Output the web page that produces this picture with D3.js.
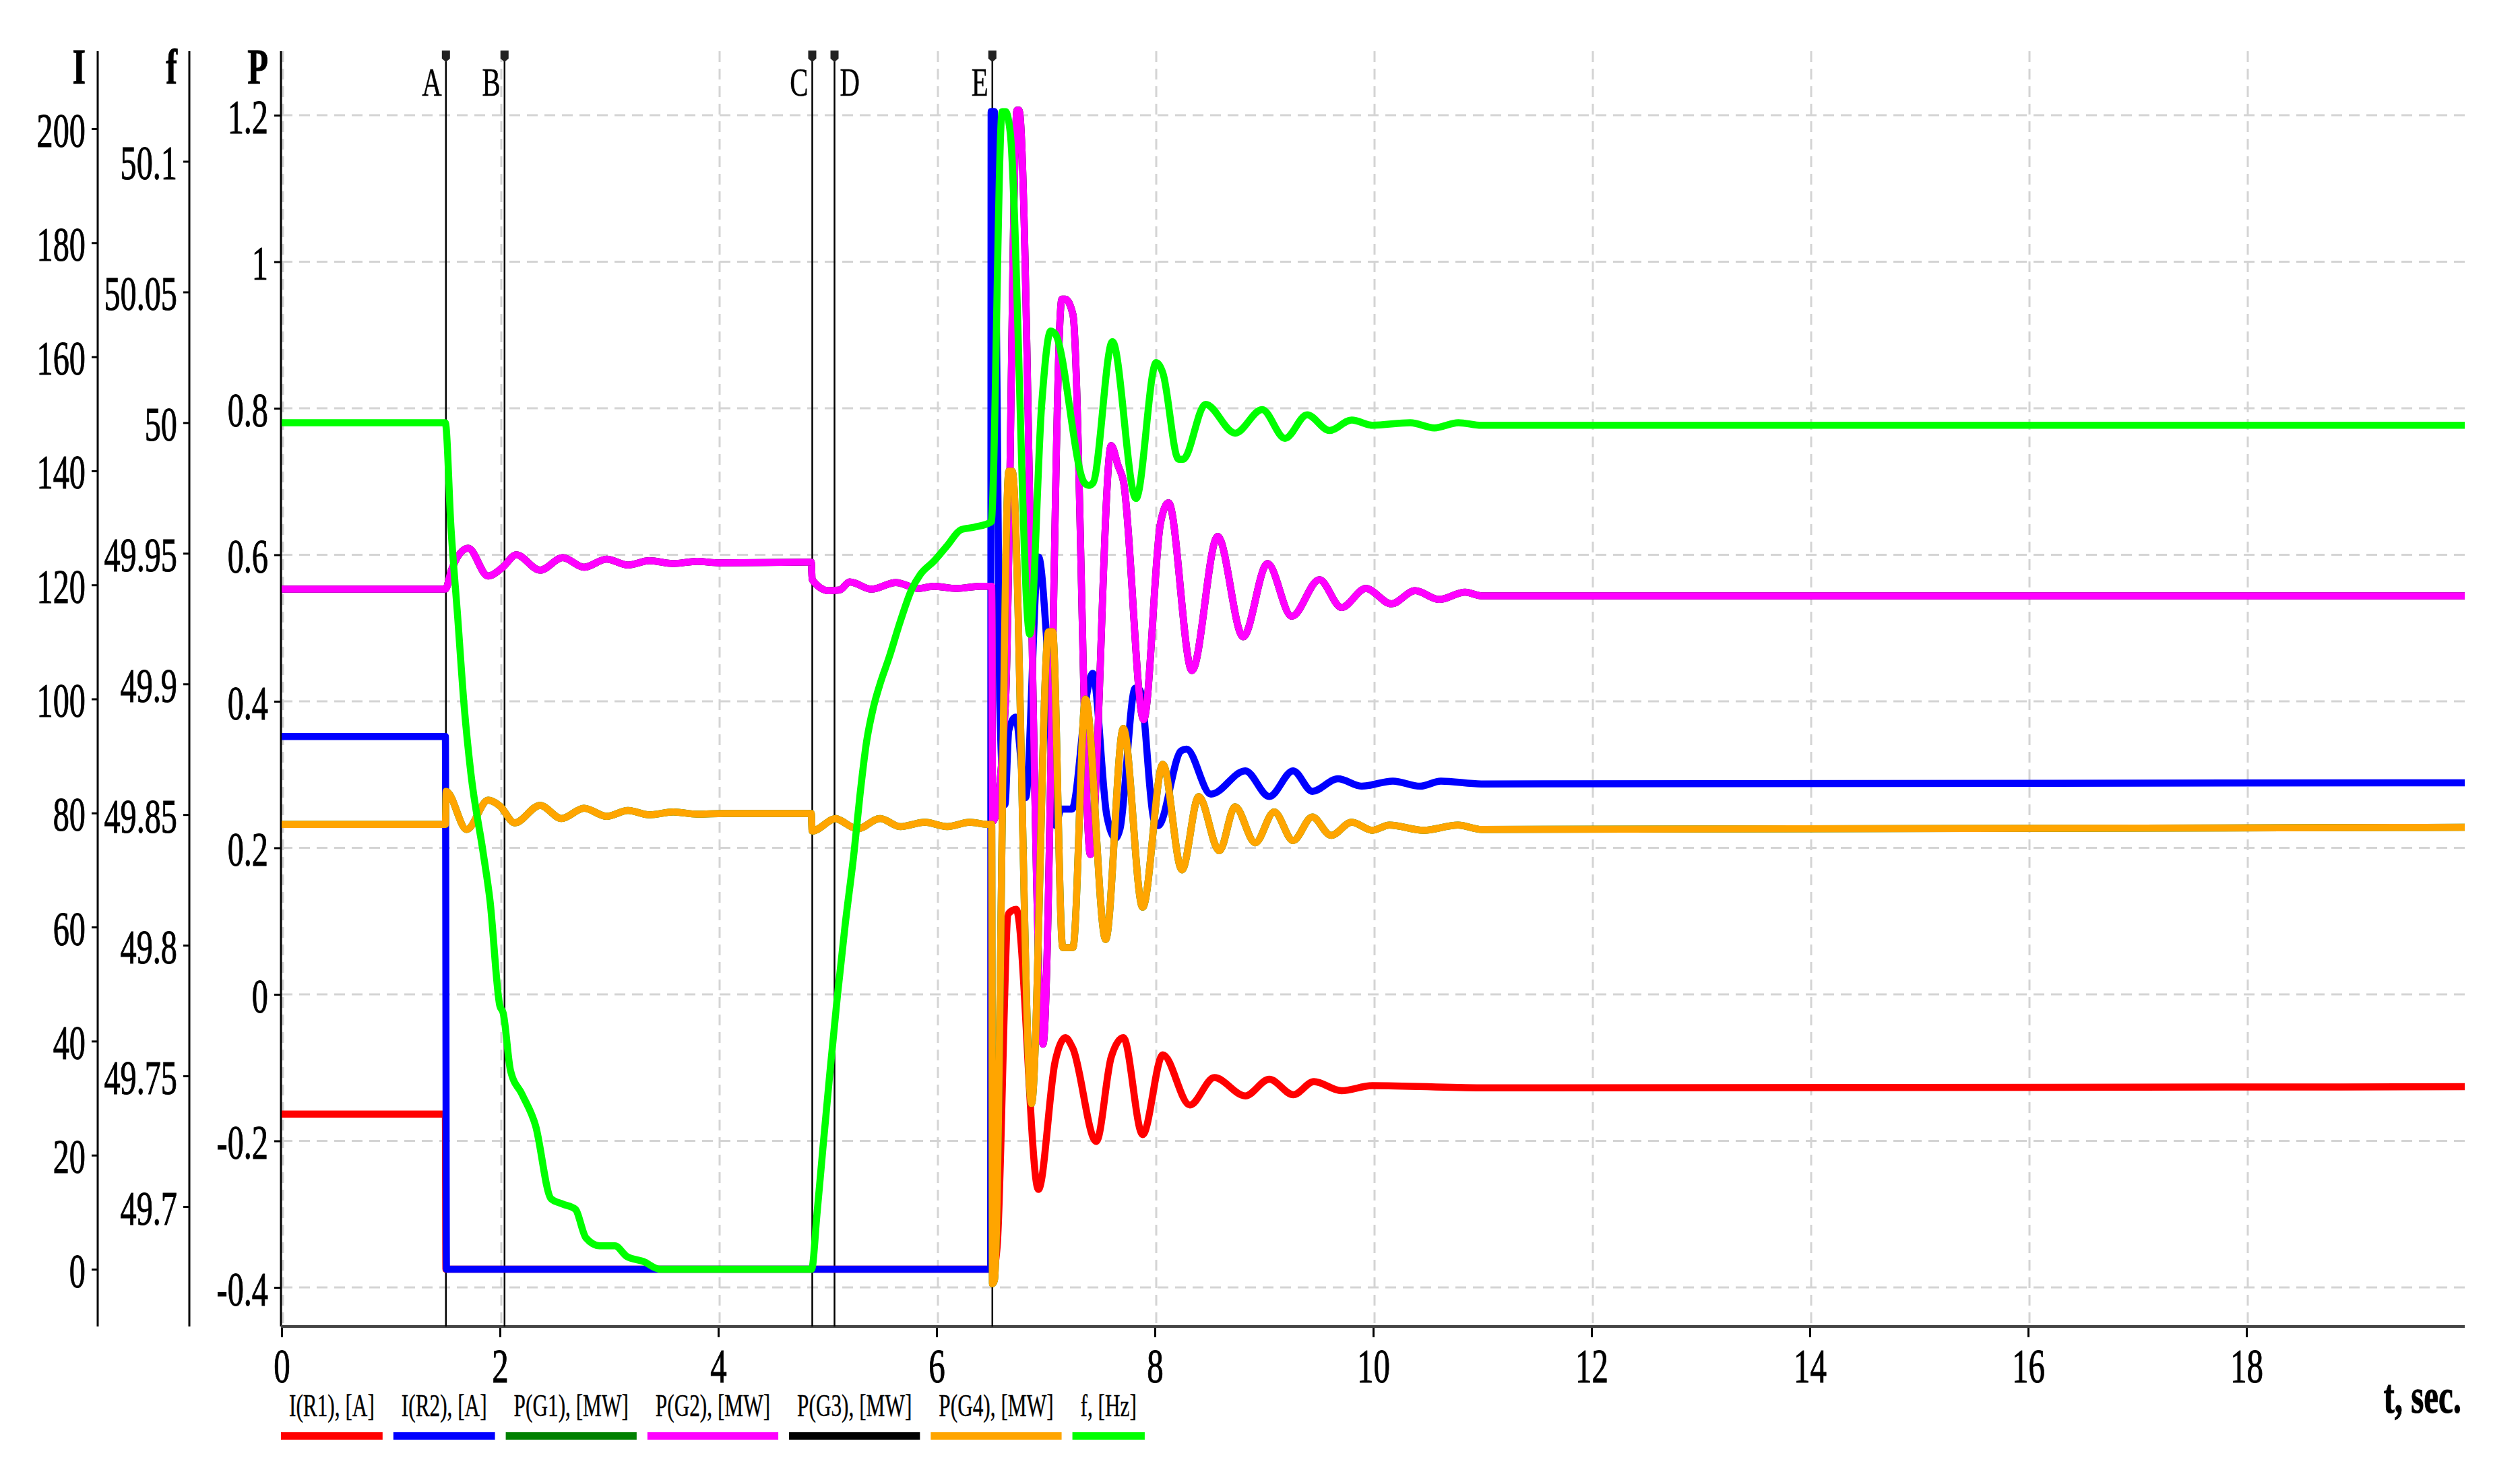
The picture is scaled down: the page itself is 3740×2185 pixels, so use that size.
<!DOCTYPE html>
<html>
<head>
<meta charset="utf-8">
<script src="https://cdn.jsdelivr.net/npm/d3@7"></script>
<style>
  body { margin: 0; background: #fff; }
  text { font-family: "Liberation Serif", "Times New Roman", serif; fill: #000; stroke: #000; stroke-width: 1; }
</style>
</head>
<body>
<svg id="chart"></svg>
<script>
// ---- data: [t (sec), value] ----
const iR1 = [[0,27.2],[1.50,27.2],[1.505,0],[6.52,0],[6.555,4.0],[6.66,62.4],[6.73,63.1],[6.933,14.0],[7.087,36.5],[7.18,40.6],[7.249,38.7],[7.463,22.4],[7.60,37.2],[7.711,40.6],[7.888,23.6],[8.073,37.6],[8.32,28.8],[8.545,33.6],[8.828,30.4],[9.048,33.3],[9.268,30.6],[9.457,32.9],[9.709,31.3],[9.993,32.2],[10.993,31.8],[20,32.0]];

const iR2 = [[0,93.4],[1.50,93.4],[1.51,0],[6.495,0],[6.50,203],[6.53,203],[6.578,99.7],[6.626,81.5],[6.662,94.5],[6.724,96.8],[6.816,82.7],[6.934,124.9],[7.006,111.1],[7.091,77.8],[7.14,80.7],[7.24,80.7],[7.389,102.1],[7.43,104.5],[7.56,79.5],[7.64,75.6],[7.68,77.2],[7.82,101.9],[7.865,101.5],[7.99,78.9],[8.03,77.8],[8.24,90.9],[8.29,91.2],[8.513,83.3],[8.828,87.4],[9.048,82.9],[9.266,87.4],[9.442,83.8],[9.677,86.0],[9.895,84.7],[10.18,85.6],[10.43,84.7],[10.62,85.6],[10.99,85.1],[20,85.3]];

const pG2 = [[0,0.553],[1.50,0.553],[1.555,0.579],[1.709,0.609],[1.891,0.571],[2.026,0.583],[2.149,0.600],[2.368,0.579],[2.575,0.596],[2.770,0.583],[2.978,0.594],[3.173,0.586],[3.368,0.592],[3.588,0.588],[3.806,0.591],[4.003,0.589],[4.852,0.590],[4.860,0.566],[5.010,0.551],[5.114,0.552],[5.204,0.563],[5.403,0.553],[5.627,0.562],[5.833,0.554],[5.976,0.557],[6.18,0.554],[6.40,0.557],[6.505,0.557],[6.514,0.236],[6.632,0.401],[6.737,1.207],[6.755,1.207],[6.975,-0.068],[7.148,0.949],[7.179,0.949],[7.249,0.928],[7.409,0.191],[7.600,0.749],[7.662,0.722],[7.711,0.701],[7.897,0.375],[8.051,0.643],[8.125,0.671],[8.340,0.442],[8.575,0.625],[8.809,0.488],[9.032,0.588],[9.254,0.516],[9.507,0.566],[9.710,0.528],[9.932,0.554],[10.167,0.533],[10.383,0.551],[10.605,0.539],[10.842,0.549],[10.993,0.544],[20,0.544]];

const pG4 = [[0,0.232],[1.50,0.232],[1.507,0.277],[1.696,0.225],[1.892,0.265],[2.001,0.257],[2.136,0.234],[2.368,0.258],[2.563,0.240],[2.770,0.254],[2.978,0.243],[3.173,0.251],[3.368,0.245],[3.588,0.249],[3.806,0.246],[4.052,0.247],[4.852,0.247],[4.860,0.223],[5.08,0.240],[5.112,0.238],[5.276,0.226],[5.482,0.240],[5.667,0.229],[5.893,0.235],[6.097,0.229],[6.305,0.235],[6.47,0.232],[6.505,0.232],[6.512,-0.395],[6.53,-0.39],[6.662,0.714],[6.693,0.714],[6.870,-0.149],[7.026,0.495],[7.063,0.495],[7.156,0.064],[7.249,0.064],[7.364,0.403],[7.549,0.075],[7.711,0.363],[7.888,0.119],[8.073,0.314],[8.248,0.170],[8.402,0.270],[8.591,0.196],[8.734,0.256],[8.920,0.207],[9.093,0.249],[9.266,0.210],[9.442,0.242],[9.614,0.217],[9.803,0.235],[9.993,0.224],[10.148,0.231],[10.463,0.224],[10.777,0.231],[10.993,0.225],[20,0.228]];

// P(G1) and P(G3) are hidden in the picture: they run under P(G4) and P(G2)
const pG1 = pG4;
const pG3 = pG2;

const freq = [[0,50.0],[1.499,50.0],[1.551,49.960],[1.612,49.926],[1.673,49.891],[1.733,49.866],[1.844,49.836],[1.909,49.817],[1.998,49.777],[2.030,49.774],[2.097,49.752],[2.202,49.743],[2.326,49.731],[2.468,49.703],[2.572,49.701],[2.690,49.699],[2.788,49.688],[2.912,49.685],[3.054,49.685],[3.159,49.681],[3.313,49.679],[3.467,49.676],[3.590,49.676],[4.855,49.676],[4.904,49.697],[4.960,49.723],[5.022,49.751],[5.090,49.780],[5.163,49.808],[5.245,49.836],[5.297,49.857],[5.359,49.878],[5.421,49.891],[5.482,49.900],[5.564,49.910],[5.668,49.924],[5.770,49.936],[5.853,49.942],[5.976,49.947],[6.099,49.953],[6.223,49.959],[6.346,49.960],[6.500,49.962],[6.601,50.119],[6.632,50.119],[6.675,50.111],[6.854,49.919],[6.963,50.007],[7.045,50.035],[7.086,50.034],[7.354,49.977],[7.395,49.976],[7.434,49.977],[7.611,50.031],[7.827,49.971],[8.012,50.023],[8.073,50.019],[8.217,49.986],[8.258,49.986],[8.464,50.007],[8.735,49.996],[8.982,50.005],[9.192,49.994],[9.395,50.003],[9.599,49.997],[9.803,50.001],[9.994,49.999],[10.34,50.000],[10.56,49.998],[10.78,50.000],[10.99,49.999],[20,49.999]];

const markerT = [1.505, 2.042, 4.861, 5.065, 6.511];
const markerNames = ["A", "B", "C", "D", "E"];

const tTicks = [0, 2, 4, 6, 8, 10, 12, 14, 16, 18];
const pTicks = [-0.4, -0.2, 0, 0.2, 0.4, 0.6, 0.8, 1, 1.2];
const iTicks = [0, 20, 40, 60, 80, 100, 120, 140, 160, 180, 200];
const fTicks = [49.7, 49.75, 49.8, 49.85, 49.9, 49.95, 50, 50.05, 50.1];

const legendNames = ["I(R1), [A]", "I(R2), [A]", "P(G1), [MW]", "P(G2), [MW]", "P(G3), [MW]", "P(G4), [MW]", "f, [Hz]"];
const legendColors = ["#ff0000", "#0000ff", "#008000", "#ff00ff", "#000000", "#ffa500", "#00ff00"];

// ---- layout ----
const W = 3740, H = 2185;
const plotL = 418, plotR = 3658, plotT = 76, plotB = 1969;
const SQ = 0.68;   // the original text is squeezed horizontally

const x = d3.scaleLinear().domain([0, 20]).range([plotL, plotR]);
const yP = d3.scaleLinear().domain([-0.4, 1.2]).range([1911, 171]);
const yI = d3.scaleLinear().domain([0, 200]).range([1884, 191]);
const yF = d3.scaleLinear().domain([49.7, 50.1]).range([1791, 239.5]);

const svg = d3.select("#chart").attr("width", W).attr("height", H);

// grid
svg.append("g").selectAll("line").data(pTicks).join("line")
  .attr("x1", plotL).attr("x2", plotR)
  .attr("y1", d => yP(d)).attr("y2", d => yP(d))
  .attr("stroke", "#d4d4d4").attr("stroke-width", 3).attr("stroke-dasharray", "16,10");
svg.append("g").selectAll("line").data(tTicks).join("line")
  .attr("x1", d => x(d) + 2).attr("x2", d => x(d) + 2)
  .attr("y1", plotT).attr("y2", plotB)
  .attr("stroke", "#d4d4d4").attr("stroke-width", 3).attr("stroke-dasharray", "16,10");

// y axes
function yAxis(scale, ticks, fmt, xPos, size, title) {
  const g = svg.append("g").attr("transform", `translate(${xPos},0)`)
    .call(d3.axisLeft(scale).tickValues(ticks).tickFormat(fmt).tickSize(size).tickPadding(9));
  g.attr("font-family", null).attr("font-size", null);
  g.select(".domain").remove();
  g.selectAll(".tick line").attr("stroke", "#000").attr("stroke-width", 3);
  g.selectAll(".tick text").attr("x", null).attr("dy", null)
    .attr("transform", `translate(${-(size + 9)},26) scale(${SQ},1)`)
    .style("font-size", "71px").attr("fill", "#000");
  g.append("line").attr("y1", plotT).attr("y2", plotB)
    .attr("stroke", "#000").attr("stroke-width", 3);
  g.append("text").text(title)
    .attr("text-anchor", "end")
    .attr("transform", `translate(${-size - 9},124) scale(${SQ},1)`)
    .style("font-size", "74px").style("font-weight", "bold");
}
yAxis(yI, iTicks, d => d, 145, 9, "I");
yAxis(yF, fTicks, d => d, 281, 9, "f");
yAxis(yP, pTicks, d => d, 417, 10, "P");

// x axis
const gx = svg.append("g").attr("transform", `translate(0,${plotB})`)
  .call(d3.axisBottom(x).tickValues(tTicks).tickSize(16).tickPadding(10));
gx.attr("font-family", null).attr("font-size", null);
gx.select(".domain").remove();
gx.selectAll(".tick line").attr("stroke", "#000").attr("stroke-width", 3);
gx.selectAll(".tick text").attr("y", null).attr("dy", null)
  .attr("transform", `translate(0,83) scale(${SQ},1)`)
  .style("font-size", "72px").attr("fill", "#000");
gx.append("line").attr("x1", plotL - 1).attr("x2", plotR)
  .attr("stroke", "#444").attr("stroke-width", 4);
svg.append("text").text("t, sec.")
  .attr("text-anchor", "end")
  .attr("transform", `translate(3653,2097) scale(${SQ},1)`)
  .style("font-size", "72px").style("font-weight", "bold");

// event markers
const mk = svg.append("g").selectAll("g").data(markerT).join("g")
  .attr("transform", d => `translate(${x(d)},0)`);
mk.append("line").attr("y1", 88).attr("y2", plotB)
  .attr("stroke", "#000").attr("stroke-width", 2.5);
mk.append("path").attr("d", "M-6,75 h12 v12 l-6,5 l-6,-5 z").attr("fill", "#222");
mk.append("text").text((d, i) => markerNames[i])
  .attr("text-anchor", (d, i) => markerNames[i] === "D" ? "start" : "end")
  .attr("transform", (d, i) => `translate(${markerNames[i] === "D" ? 8 : -6},142) scale(${SQ},1)`)
  .style("font-size", "60px").style("stroke-width", 0.5);

// series (drawing order keeps the hidden ones underneath)
const series = [
  { data: iR1, y: yI, color: legendColors[0] },
  { data: iR2, y: yI, color: legendColors[1] },
  { data: pG3, y: yP, color: legendColors[4] },
  { data: pG2, y: yP, color: legendColors[3] },
  { data: pG1, y: yP, color: legendColors[2] },
  { data: pG4, y: yP, color: legendColors[5] },
  { data: freq, y: yF, color: legendColors[6] }
];
svg.append("g").selectAll("path").data(series).join("path")
  .attr("d", s => d3.line().curve(d3.curveMonotoneX)
    .x(d => x(d[0])).y(d => s.y(d[1]))(s.data))
  .attr("fill", "none")
  .attr("stroke", s => s.color)
  .attr("stroke-width", 10.5)
  .attr("stroke-linejoin", "round");

// legend
const lg = svg.append("g");
let lx = 417;
legendNames.forEach((name, i) => {
  const t = lg.append("text").text(name)
    .attr("transform", `translate(${lx + 12},2102) scale(${SQ},1)`)
    .style("font-size", "46px").style("stroke-width", 0.4);
  const w = t.node().getComputedTextLength() * SQ + 24;
  lg.append("rect").attr("x", lx).attr("y", 2126).attr("width", w).attr("height", 11)
    .attr("fill", legendColors[i]);
  lx += w + 16;
});
</script>
</body>
</html>
